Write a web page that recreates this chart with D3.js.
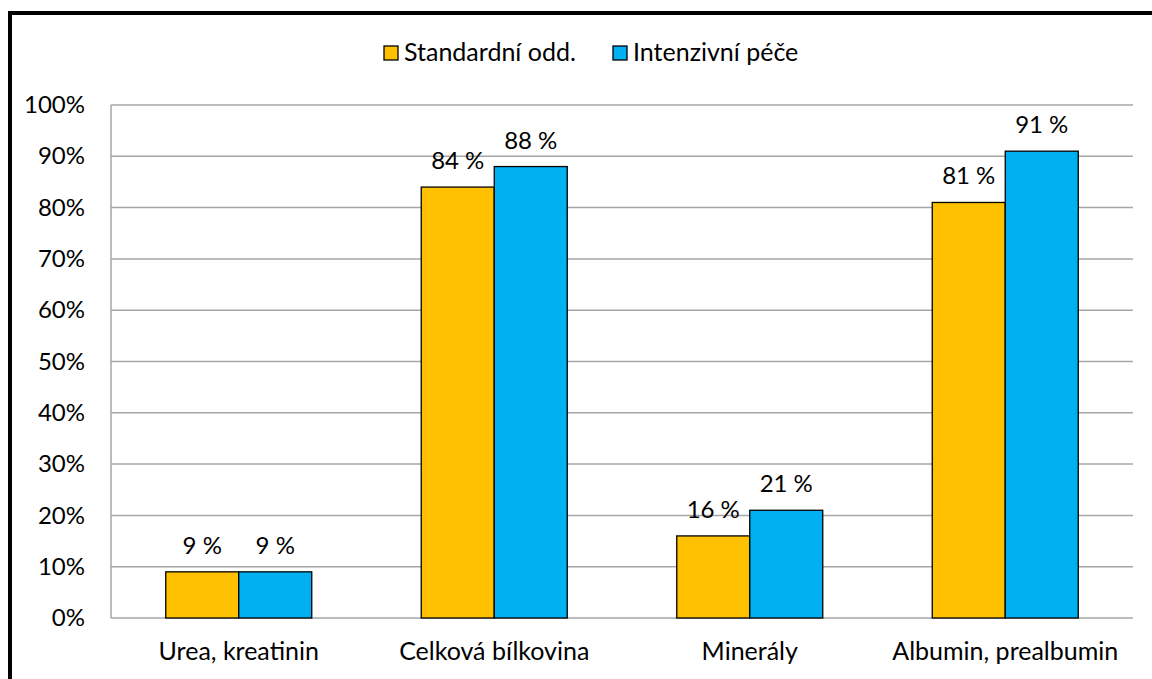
<!DOCTYPE html>
<html>
<head>
<meta charset="utf-8">
<script src="https://cdn.jsdelivr.net/npm/d3@7"></script>
<style>
  html, body { margin: 0; padding: 0; background: #fff; }
  svg { display: block; }
  text { font-family: Lato, "Open Sans", sans-serif; fill: #000; }
</style>
</head>
<body>
<svg id="chart" width="1152" height="679"></svg>
<script>
// Categories and values (percent)
const categories = ["Urea, kreatinin", "Celková bílkovina", "Minerály", "Albumin, prealbumin"];
const seriesNames = ["Standardní odd.", "Intenzivní péče"];
const standardni = [9, 84, 16, 81];
const intenzivni = [9, 88, 21, 91];
const yTicks = [0, 10, 20, 30, 40, 50, 60, 70, 80, 90, 100];
const colors = ["#FFC000", "#00B0F0"];

const svg = d3.select("#chart");
const W = 1152, H = 679;
const FS = 24;      // numbers
const FS_TXT = 25;  // words

// outer frame
svg.append("rect")
  .attr("x", 10).attr("y", 13)
  .attr("width", W + 20).attr("height", H + 20)
  .attr("fill", "#fff").attr("stroke", "#000").attr("stroke-width", 4);

const plot = { left: 111, right: 1133, top: 105, bottom: 618 };

const x0 = d3.scaleBand()
  .domain(categories)
  .range([plot.left, plot.right])
  .paddingInner(0).paddingOuter(0);

// two bars per category, gap between groups = 1.5 bar widths
const x1 = d3.scaleBand()
  .domain(seriesNames)
  .range([0, x0.bandwidth()])
  .paddingInner(0)
  .paddingOuter(0.75);

const y = d3.scaleLinear().domain([0, 100]).range([plot.bottom, plot.top]);

// gridlines
svg.append("g")
  .selectAll("line")
  .data(yTicks)
  .join("line")
  .attr("x1", plot.left).attr("x2", plot.right)
  .attr("y1", d => y(d)).attr("y2", d => y(d))
  .attr("stroke", "#A6A6A6").attr("stroke-width", 1.5);

// vertical axis line
svg.append("line")
  .attr("x1", plot.left).attr("x2", plot.left)
  .attr("y1", y(100)).attr("y2", y(0))
  .attr("stroke", "#A6A6A6").attr("stroke-width", 1.5);

// y tick labels
const yAxis = d3.axisLeft(y).tickValues(yTicks).tickFormat(d => d + "%").tickSize(0).tickPadding(26);
const gy = svg.append("g").attr("transform", `translate(${plot.left},0)`).call(yAxis);
gy.select(".domain").remove();
gy.selectAll("text").attr("font-size", FS).attr("font-family", "Lato, sans-serif").attr("fill", "#000");

// x category labels
const xAxis = d3.axisBottom(x0).tickSize(0).tickPadding(0);
const gx = svg.append("g").attr("transform", `translate(0,${plot.bottom})`).call(xAxis);
gx.select(".domain").remove();
gx.selectAll("text").attr("font-size", FS_TXT).attr("font-family", "Lato, sans-serif").attr("fill", "#000")
  .attr("dy", null).attr("y", 42);

// bars
const rows = categories.map((c, i) => ({ cat: c, vals: [standardni[i], intenzivni[i]] }));
const groups = svg.append("g").selectAll("g")
  .data(rows).join("g")
  .attr("transform", d => `translate(${x0(d.cat)},0)`);

groups.selectAll("rect")
  .data(d => d.vals.map((v, j) => ({ name: seriesNames[j], v, j })))
  .join("rect")
  .attr("x", d => x1(d.name))
  .attr("y", d => y(d.v))
  .attr("width", x1.bandwidth())
  .attr("height", d => y(0) - y(d.v))
  .attr("fill", d => colors[d.j])
  .attr("stroke", "#000").attr("stroke-width", 1.3);

groups.selectAll("text.val")
  .data(d => d.vals.map((v, j) => ({ name: seriesNames[j], v, j })))
  .join("text")
  .attr("class", "val")
  .attr("x", d => x1(d.name) + x1.bandwidth() / 2)
  .attr("y", d => y(d.v) - 18)
  .attr("text-anchor", "middle")
  .attr("font-size", FS)
  .text(d => d.v + " %");

// legend
const legendItems = [
  { name: seriesNames[0], x: 384 },
  { name: seriesNames[1], x: 613 }
];
const lg = svg.append("g").selectAll("g").data(legendItems).join("g")
  .attr("transform", d => `translate(${d.x},46)`);
lg.append("rect")
  .attr("width", 14).attr("height", 14)
  .attr("fill", (d, i) => colors[i])
  .attr("stroke", "#000").attr("stroke-width", 1.3);
lg.append("text")
  .attr("x", 20).attr("y", 15)
  .attr("font-size", FS_TXT)
  .text(d => d.name);
</script>
</body>
</html>
